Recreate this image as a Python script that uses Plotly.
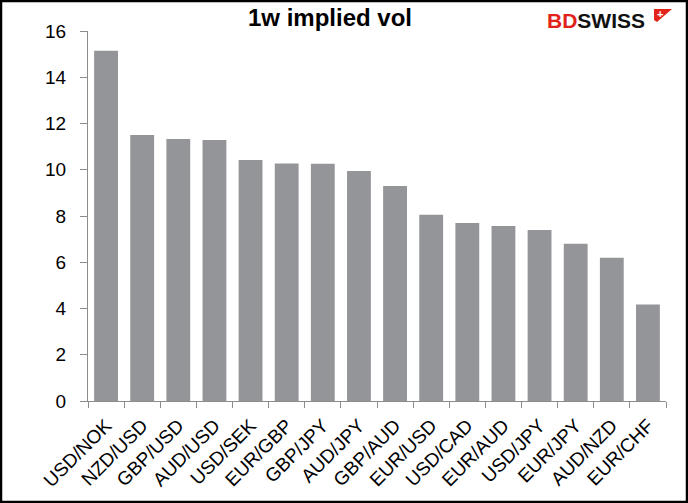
import plotly.graph_objects as go

categories = ["USD/NOK", "NZD/USD", "GBP/USD", "AUD/USD", "USD/SEK", "EUR/GBP", "GBP/JPY", "AUD/JPY",
              "GBP/AUD", "EUR/USD", "USD/CAD", "EUR/AUD", "USD/JPY", "EUR/JPY", "AUD/NZD", "EUR/CHF"]
values = [15.15, 11.5, 11.33, 11.29, 10.42, 10.27, 10.26, 9.95,
          9.3, 8.05, 7.7, 7.57, 7.4, 6.8, 6.2, 4.17]
y_ticks = [0, 2, 4, 6, 8, 10, 12, 14, 16]

W, H = 688, 503
L, R, T, B = 88, 22, 31, 102
pw = W - L - R
ph = H - T - B

fig = go.Figure(go.Bar(x=categories, y=values, marker=dict(color="#939598", line=dict(width=0)),
                       width=0.66))

def px_x(p):
    return (p - L) / pw

def px_y(p):
    # p: pixels from top of the page
    return (H - B - p) / ph

fig.update_layout(
    width=W, height=H,
    margin=dict(l=L, r=R, t=T, b=B),
    paper_bgcolor="white", plot_bgcolor="white",
    showlegend=False,
    font=dict(family="Liberation Sans, Arial, sans-serif", color="black"),
    xaxis=dict(tickangle=-45, tickfont=dict(size=19), showline=True, linecolor="#8c8c8c", linewidth=1,
               ticks="outside", tickson="boundaries", ticklen=6, tickcolor="#8c8c8c",
               ticklabelstandoff=5, showgrid=False, range=[-0.5, len(categories) - 0.5]),
    yaxis=dict(range=[0, 16], tickvals=y_ticks, tickfont=dict(size=19), showline=True,
               linecolor="#8c8c8c", linewidth=1, ticks="outside", ticklen=7, tickcolor="#8c8c8c",
               ticklabelstandoff=10, showgrid=False, zeroline=False),
    annotations=[
        dict(text="<b>1w implied vol</b>", x=px_x(330), y=px_y(18), xref="paper", yref="paper",
             showarrow=False, font=dict(size=24, color="black"), xanchor="center", yanchor="middle"),
        dict(text="<b><span style='color:#e2231a'>BD</span>SWISS</b>", x=px_x(647), y=px_y(20),
             xref="paper", yref="paper", showarrow=False, font=dict(size=21, color="#111111"),
             xanchor="right", yanchor="middle"),
        dict(text="<b>+</b>", x=px_x(660), y=px_y(14), xref="paper", yref="paper", showarrow=False,
             font=dict(size=11, color="white"), xanchor="center", yanchor="middle"),
    ],
    shapes=[
        dict(type="rect", xref="paper", yref="paper", x0=px_x(1), x1=px_x(W - 1), y0=px_y(H - 1), y1=px_y(1),
             line=dict(color="black", width=2.5), fillcolor="rgba(0,0,0,0)", layer="above"),
        dict(type="path", xref="paper", yref="paper",
             path="M {} {} L {} {} L {} {} L {} {} Z".format(px_x(654), px_y(9), px_x(672), px_y(9),
                                                              px_x(657), px_y(22), px_x(654), px_y(20)),
             fillcolor="#e2231a", line=dict(width=0)),
    ],
)

fig.write_html("out.html", config={"displayModeBar": False},
               post_script="document.body.style.margin='0px';")
